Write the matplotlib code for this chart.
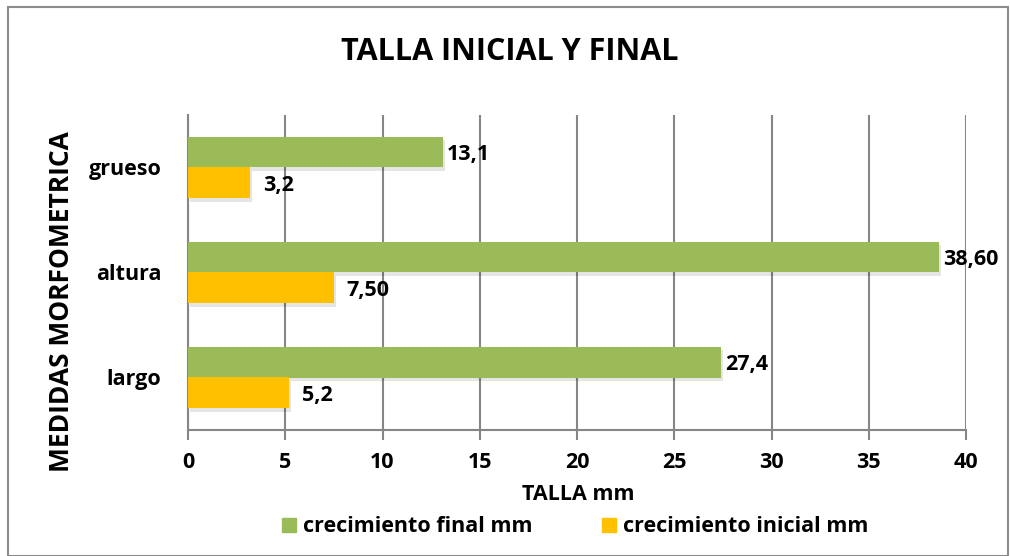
import matplotlib
matplotlib.use('Agg')
import matplotlib.pyplot as plt
import matplotlib.patheffects as pe
from matplotlib.patches import Rectangle, Patch
import numpy as np

plt.rcParams['font.family'] = ['Open Sans', 'DejaVu Sans']
plt.rcParams['font.weight'] = 'bold'

# data (bottom to top)
categories = ['largo', 'altura', 'grueso']
final_mm = [27.4, 38.60, 13.1]
inicial_mm = [5.2, 7.50, 3.2]
final_labels = ['27,4', '38,60', '13,1']
inicial_labels = ['5,2', '7,50', '3,2']

green = '#9BBB59'
orange = '#FFC000'
grid_col = '#868686'

fig = plt.figure(figsize=(10.1, 5.56), dpi=100)
ax = fig.add_axes([188 / 1010, 1 - 430 / 556, (966 - 188) / 1010, (430 - 115) / 556])

# figure border
fig.patches.append(Rectangle((8 / 1010, 0), 1000 / 1010, 1 - 7 / 556, transform=fig.transFigure,
                             fill=False, edgecolor='#8c8c8c', linewidth=1.5))

y = np.arange(len(categories))
h = 0.295
shadow = [pe.SimplePatchShadow(offset=(1.5, -2.5), shadow_rgbFace='#000000', alpha=0.1), pe.Normal()]
b1 = ax.barh(y + h / 2, final_mm, height=h, color=green, zorder=3)
b2 = ax.barh(y - h / 2, inicial_mm, height=h, color=orange, zorder=3)
for b in list(b1) + list(b2):
    b.set_path_effects(shadow)

fs = 15.5
for i in range(len(categories)):
    ax.text(final_mm[i] + 0.2, y[i] + h / 2 - 0.02, final_labels[i], va='center', ha='left',
            fontsize=fs, fontweight='bold', zorder=4)
    ax.text(inicial_mm[i] + 0.65, y[i] - h / 2 - 0.02, inicial_labels[i], va='center', ha='left',
            fontsize=fs, fontweight='bold', zorder=4)

ax.set_xlim(0, 40)
ax.set_ylim(-0.5, 2.5)
ax.set_xticks(np.arange(0, 41, 5))
ax.set_yticks(y)
ax.set_yticklabels(categories)
ax.tick_params(axis='x', length=7, width=1.5, color=grid_col, labelsize=fs, pad=9)
ax.tick_params(axis='y', length=0, labelsize=fs, pad=19)
for lab in ax.get_xticklabels() + ax.get_yticklabels():
    lab.set_fontweight('bold')
ax.grid(axis='x', color=grid_col, linewidth=1.5, zorder=0)
ax.set_axisbelow(True)
for s in ['top', 'right']:
    ax.spines[s].set_visible(False)
for s in ['left', 'bottom']:
    ax.spines[s].set_color(grid_col)
    ax.spines[s].set_linewidth(1.5)

fig.text(510 / 1010, 1 - 52 / 556, 'TALLA INICIAL Y FINAL', ha='center', va='center',
         fontsize=22, fontweight='bold')
fig.text(62 / 1010, 1 - 302 / 556, 'MEDIDAS MORFOMETRICA', ha='center', va='center',
         rotation=90, fontsize=19, fontweight='bold')
fig.text(578 / 1010, 1 - 494 / 556, 'TALLA mm', ha='center', va='center',
         fontsize=fs, fontweight='bold')

handles = [Patch(color=green, label='crecimiento final mm'),
           Patch(color=orange, label='crecimiento inicial mm')]
fig.legend(handles=handles, loc='center', bbox_to_anchor=(575 / 1010, 1 - 527 / 556), ncol=2,
           frameon=False, handlelength=0.65, handleheight=0.65, handletextpad=0.35,
           columnspacing=3.2, prop={'weight': 'bold', 'size': fs})

fig.savefig('out.png', dpi=100)
